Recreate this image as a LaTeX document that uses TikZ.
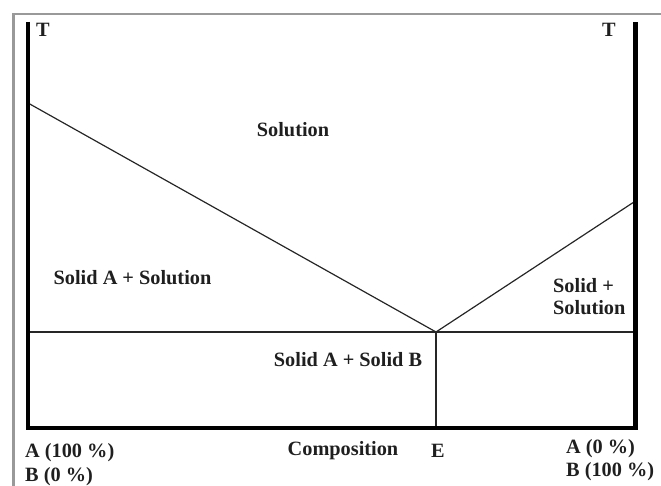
\documentclass[tikz,border=0pt]{standalone}
\usepackage{fontspec}
\setmainfont{Liberation Serif}
\begin{document}
\begin{tikzpicture}[x=1pt,y=-1pt,
  lbl/.style={inner sep=0pt,font=\fontsize{20.3}{22}\selectfont\bfseries,text=black!88},
  axis/.style={line width=4.5pt,black},
  thin/.style={line width=1.2pt,black!85},
  frame/.style={line width=2.5pt,black!40}]
\useasboundingbox (0,0) rectangle (661,486);
% gray frame
\draw[frame] (13.5,486) -- (13.5,14) -- (661,14);
% coordinates
\coordinate (tl) at (28,22);
\coordinate (bl) at (28,428);
\coordinate (br) at (635.5,428);
\coordinate (tr) at (635.5,22);
\coordinate (lstart) at (28,103);
\coordinate (eut) at (436,332);
\coordinate (rend) at (635.5,201);
\coordinate (hl) at (28,332);
\coordinate (hr) at (635.5,332);
\coordinate (vb) at (436,428);
% interior lines
\draw[thin] (lstart) -- (eut) -- (rend);
\draw[thin] (hl) -- (hr);
\draw[thin] (eut) -- (vb);
% axes
\draw[axis] (tl) -- (bl) -- (br) -- (tr);
% labels
\node[lbl,anchor=base] (tL) at (43,37) {T};
\node[lbl,anchor=base] (tR) at (609,37) {T};
\node[lbl,anchor=base] (sol) at (293,137) {Solution};
\node[lbl,anchor=base] (sas) at (132.5,285) {Solid A + Solution};
\node[lbl,anchor=base west] (sp) at (553,292) {Solid +};
\node[lbl,anchor=base west] (spsol) at (553,314) {Solution};
\node[lbl,anchor=base] (sab) at (348,366) {Solid A + Solid B};
\node[lbl,anchor=base] (comp) at (343,455) {Composition};
\node[lbl,anchor=base] (E) at (438,457) {E};
\node[lbl,anchor=base west] (a100) at (25,457) {A (100 \%)};
\node[lbl,anchor=base west] (b0) at (25,481) {B (0 \%)};
\node[lbl,anchor=base west] (a0) at (566,453) {A (0 \%)};
\node[lbl,anchor=base west] (b100) at (566,476) {B (100 \%)};
\end{tikzpicture}
\end{document}
